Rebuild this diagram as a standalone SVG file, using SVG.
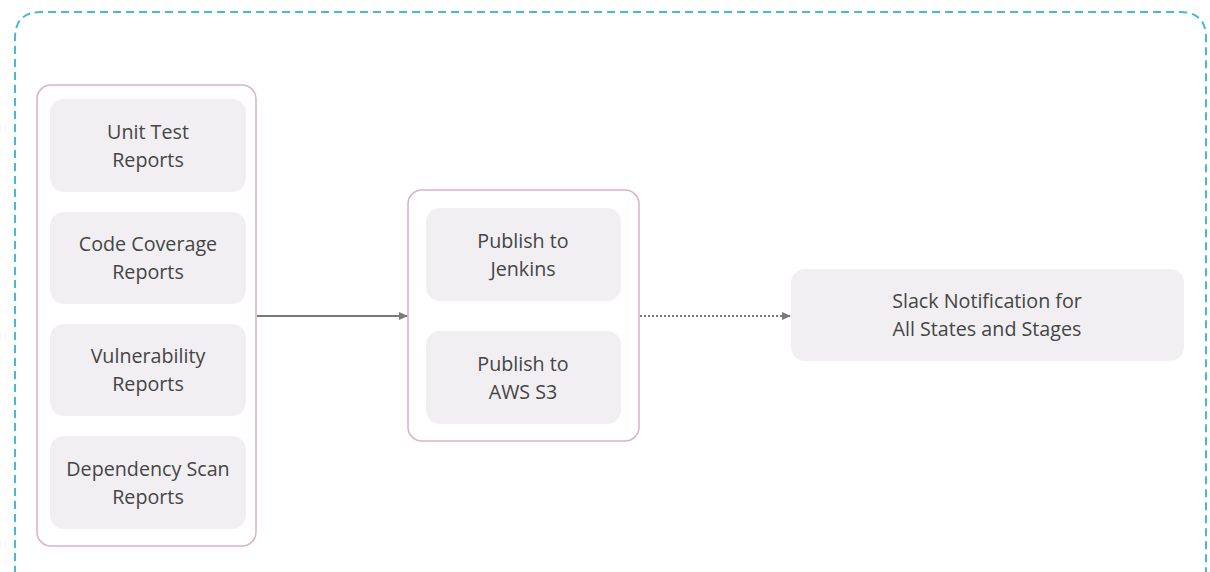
<svg xmlns="http://www.w3.org/2000/svg" width="1210" height="572" viewBox="0 0 1210 572">
<defs>
<style>
.grp{fill:#fff;stroke:#dcb3cb;stroke-width:1.6}
.box{fill:#f1eff2;stroke:none}
.t{font-family:"Open Sans","Liberation Sans",sans-serif;font-size:19.7px;fill:#454545;text-anchor:middle}
.c{stroke:#7a7a7a;stroke-width:1.8;fill:none}
</style>
<marker id="ah" markerWidth="10" markerHeight="10" refX="8" refY="5" orient="auto" markerUnits="userSpaceOnUse">
<path d="M0,1 L9,5 L0,9 Z" fill="#7a7a7a"/>
</marker>
</defs>
<rect width="1210" height="572" fill="#fff"/>
<path d="M15,600 L15,38 Q15,12 41,12 L1180,12 Q1206,12 1206,38 L1206,600" fill="none" stroke="#4ab8d2" stroke-width="2" stroke-dasharray="8,5"/>
<g id="reports-group">
<rect class="grp" x="37" y="85" width="219" height="461" rx="14"/>
</g>
<g id="unit-test">
<rect class="box" x="50" y="99" width="196" height="93" rx="14"/>
<text class="t" x="148" y="139">Unit Test</text>
<text class="t" x="148" y="167">Reports</text>
</g>
<g id="code-coverage">
<rect class="box" x="50" y="212" width="196" height="92" rx="14"/>
<text class="t" x="148" y="251">Code Coverage</text>
<text class="t" x="148" y="279">Reports</text>
</g>
<g id="vulnerability">
<rect class="box" x="50" y="324" width="196" height="92" rx="14"/>
<text class="t" x="148" y="363">Vulnerability</text>
<text class="t" x="148" y="391">Reports</text>
</g>
<g id="dependency-scan">
<rect class="box" x="50" y="436" width="196" height="93" rx="14"/>
<text class="t" x="148" y="476">Dependency Scan</text>
<text class="t" x="148" y="504">Reports</text>
</g>
<g id="publish-group">
<rect class="grp" x="408" y="190" width="231" height="251" rx="14"/>
</g>
<g id="publish-jenkins">
<rect class="box" x="426" y="208" width="195" height="93" rx="14"/>
<text class="t" x="523" y="248">Publish to</text>
<text class="t" x="523" y="276">Jenkins</text>
</g>
<g id="publish-s3">
<rect class="box" x="426" y="331" width="195" height="93" rx="14"/>
<text class="t" x="523" y="371">Publish to</text>
<text class="t" x="523" y="399">AWS S3</text>
</g>
<g id="slack">
<rect class="box" x="791" y="269" width="393" height="92" rx="14"/>
<text class="t" x="987" y="308">Slack Notification for</text>
<text class="t" x="987" y="336">All States and Stages</text>
</g>
<g id="connectors">
<line class="c" x1="257" y1="316" x2="407" y2="316" marker-end="url(#ah)"/>
<line class="c" x1="640" y1="316" x2="790" y2="316" stroke-dasharray="2,2" marker-end="url(#ah)"/>
</g>
</svg>
